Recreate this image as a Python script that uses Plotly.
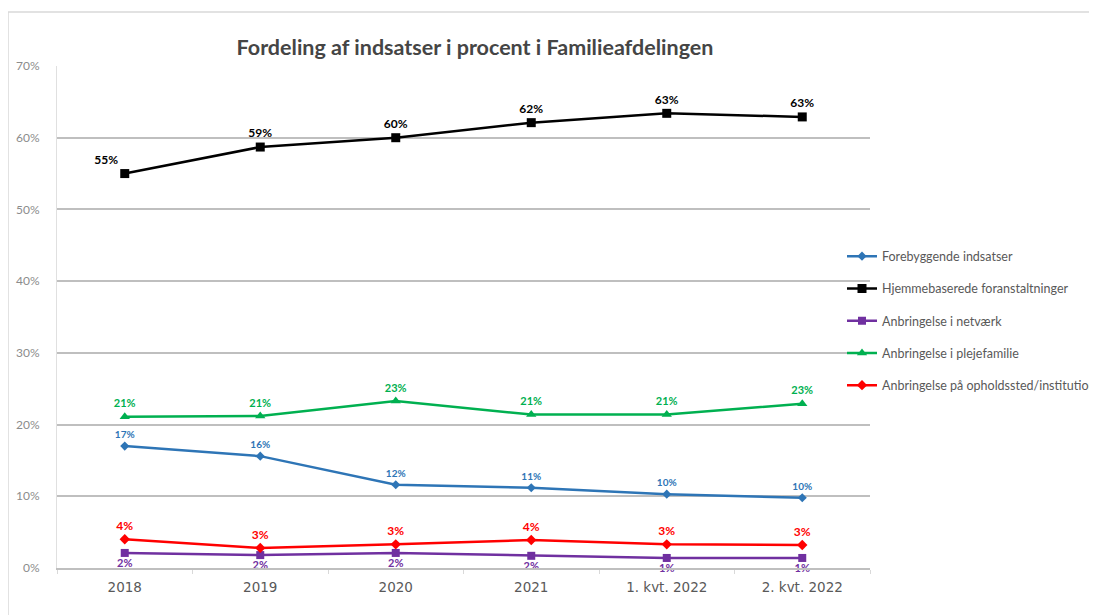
import plotly.graph_objects as go

categories = ["2018", "2019", "2020", "2021", "1. kvt. 2022", "2. kvt. 2022"]
y_ticks = [0, 0.1, 0.2, 0.3, 0.4, 0.5, 0.6, 0.7]

forebyggende = [0.170, 0.156, 0.116, 0.112, 0.103, 0.098]
hjemmebaserede = [0.550, 0.587, 0.600, 0.621, 0.634, 0.629]
netvaerk = [0.021, 0.018, 0.021, 0.017, 0.014, 0.014]
plejefamilie = [0.211, 0.212, 0.233, 0.214, 0.214, 0.229]
opholdssted = [0.040, 0.028, 0.033, 0.039, 0.033, 0.032]

series = [
    ("Forebyggende indsatser", forebyggende, "#2e75b6", "diamond", 7, 10, "top center"),
    ("Hjemmebaserede foranstaltninger", hjemmebaserede, "#000000", "square", 9, 12,
     ["top left", "top center", "top center", "top center", "top center", "top center"]),
    ("Anbringelse i netværk", netvaerk, "#7030a0", "square", 8, 11, "bottom center"),
    ("Anbringelse i plejefamilie", plejefamilie, "#00b050", "triangle-up", 9, 11, "top center"),
    ("Anbringelse på opholdssted/institution", opholdssted, "#ff0000", "diamond", 8, 12, "top center"),
]

# page body has an 8px margin; figure coordinates are shifted accordingly
W, H = 1089, 607
L, T, R, B = 49, 58, 227, 47
PW, PH = W - L - R, H - T - B

fig = go.Figure()
for i, (name, vals, color, sym, msize, fsize, tpos) in enumerate(series):
    fig.add_trace(go.Scatter(
        x=categories, y=vals, name=name, mode="lines+markers+text",
        line=dict(color=color, width=2.5),
        marker=dict(symbol=sym, size=msize, color=color),
        texttemplate="<b>%{y:.0%}</b>", textposition=tpos,
        textfont=dict(family="Lato, Open Sans, sans-serif", size=fsize, color=color),
        legendgroup=str(i), cliponaxis=False,
    ))

fig.update_layout(
    width=W, height=H,
    margin=dict(l=L, r=R, t=T, b=B, autoexpand=False),
    paper_bgcolor="white", plot_bgcolor="white",
    title=dict(text="<b>Fordeling af indsatser i procent i Familieafdelingen</b>",
               x=(475 - 8) / W, xanchor="center", y=1 - (47 - 8) / H, yanchor="middle",
               font=dict(family="Lato, Open Sans, sans-serif", size=21.5, color="#454545")),
    legend=dict(x=(842 - 8 - L) / PW, y=(560 - (321 - 8)) / PH, xanchor="left", yanchor="middle",
                traceorder="grouped", tracegroupgap=13,
                font=dict(family="Lato, Open Sans, sans-serif", size=12.5, color="#595959"),
                itemwidth=30, bgcolor="rgba(0,0,0,0)"),
    xaxis=dict(type="category", range=[-0.5, 5.5], showgrid=False, showline=True,
               linecolor="#bfbfbf", linewidth=1.5, ticks="outside", ticklen=4,
               tickcolor="#d9d9d9", tickson="boundaries", zeroline=False,
               ticklabelstandoff=6,
               tickfont=dict(family="DejaVu Sans, sans-serif", size=13.5, color="#595959")),
    yaxis=dict(range=[0, 0.7], tickvals=y_ticks, tickformat=".0%",
               showgrid=True, gridcolor="#bfbfbf", gridwidth=1.5, zeroline=False,
               showline=True, linecolor="#e0e0e0", linewidth=1, ticks="", ticklabelstandoff=14,
               tickfont=dict(family="Lato, Open Sans, sans-serif", size=12, color="#8c8c8c")),
    shapes=[
        dict(type="line", xref="paper", yref="paper",
             x0=(0 - L) / PW, x1=(0 - L) / PW, y0=(560 - 610) / PH, y1=(560 - 4) / PH,
             line=dict(color="#d9d9d9", width=1.5), layer="below"),
        dict(type="line", xref="paper", yref="paper",
             x0=(0 - L) / PW, x1=1.6, y0=(560 - 4) / PH, y1=(560 - 4) / PH,
             line=dict(color="#d9d9d9", width=1.5), layer="below"),
    ],
)

fig.write_html("out.html")
